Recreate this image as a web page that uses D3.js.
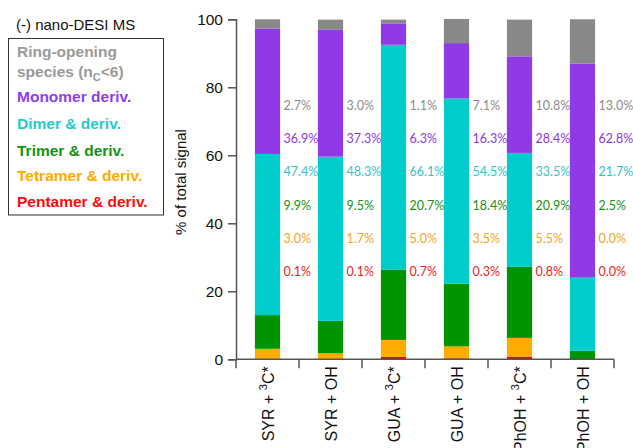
<!DOCTYPE html>
<html>
<head>
<meta charset="utf-8">
<script src="https://cdn.jsdelivr.net/npm/d3@7"></script>
<style>
  html, body { margin: 0; padding: 0; background: #fff; }
  svg { display: block; }
</style>
</head>
<body>
<svg id="chart" width="633" height="448"></svg>
<script>
// Samples (x axis), top-level tspans describe the superscript parts
const samples = [
  [{t: "SYR + "}, {t: "3", sup: true}, {t: "C*"}],
  [{t: "SYR + OH"}],
  [{t: "GUA + "}, {t: "3", sup: true}, {t: "C*"}],
  [{t: "GUA + OH"}],
  [{t: "PhOH + "}, {t: "3", sup: true}, {t: "C*"}],
  [{t: "PhOH + OH"}]
];

// Product classes, stacked bottom to top
const classes = ["pentamer", "tetramer", "trimer", "dimer", "monomer", "ring"];

// Percent of total signal per sample
const pentamer = [0.1, 0.1, 0.7, 0.3, 0.8, 0.0];
const tetramer = [3.0, 1.7, 5.0, 3.5, 5.5, 0.0];
const trimer   = [9.9, 9.5, 20.7, 18.4, 20.9, 2.5];
const dimer    = [47.4, 48.3, 66.1, 54.5, 33.5, 21.7];
const monomer  = [36.9, 37.3, 6.3, 16.3, 28.4, 62.8];
const ring     = [2.7, 3.0, 1.1, 7.1, 10.8, 13.0];

const yTicks = [0, 20, 40, 60, 80, 100];

const barColor = {
  ring: "#888888", monomer: "#8f3ae6", dimer: "#00cccc",
  trimer: "#009400", tetramer: "#ffab00", pentamer: "#ff0000"
};
const textColor = {
  ring: "#8c8c8c", monomer: "#9037e0", dimer: "#36c3c8",
  trimer: "#1a8f1a", tetramer: "#efa52a", pentamer: "#ee1c1c"
};
const legendColor = {
  ring: "#999999", monomer: "#8f3ee6", dimer: "#1ecccc",
  trimer: "#129412", tetramer: "#ffaa00", pentamer: "#ff0a0a"
};

const values = { pentamer, tetramer, trimer, dimer, monomer, ring };
const rows = samples.map((s, i) => {
  const r = { idx: i };
  classes.forEach(c => { r[c] = values[c][i]; });
  return r;
});

const svg = d3.select("#chart");
const margin = { left: 236, right: 19, top: 19.3, bottom: 88.7 };
const W = 633, H = 448;

const x = d3.scaleBand()
  .domain(d3.range(samples.length))
  .range([margin.left, W - margin.right])
  .padding(0);

const y = d3.scaleLinear()
  .domain([0, 100])
  .range([H - margin.bottom, margin.top]);

const stack = d3.stack().keys(classes);
const series = stack(rows);

const barW = x.bandwidth() * 0.4;

// Stacked bars
svg.append("g").selectAll("g")
  .data(series)
  .join("g")
  .attr("fill", d => barColor[d.key])
  .selectAll("rect")
  .data(d => d)
  .join("rect")
  .attr("x", d => x(d.data.idx) + (x.bandwidth() - barW) / 2)
  .attr("width", barW)
  .attr("y", d => y(d[1]))
  .attr("height", d => Math.max(0, y(d[0]) - y(d[1])));

// Value labels, one row per class, placed right of each bar
const labelOrder = ["ring", "monomer", "dimer", "trimer", "tetramer", "pentamer"];
const labelLevel = d3.scaleLinear().domain([0, labelOrder.length - 1]).range([74.7, 25.7]);
const lbl = svg.append("g")
  .attr("font-family", "Lato, 'Open Sans', sans-serif")
  .attr("font-size", 12.5);
labelOrder.forEach((c, k) => {
  lbl.selectAll(null)
    .data(rows)
    .join("text")
    .attr("x", d => x(d.idx) + (x.bandwidth() + barW) / 2 + 3.5)
    .attr("y", y(labelLevel(k)))
    .attr("dy", "0.35em")
    .attr("fill", textColor[c])
    .text(d => d[c].toFixed(1) + "%");
});

// Y axis
const axisColor = "#555";
const yAxis = svg.append("g")
  .attr("transform", `translate(${margin.left},0)`)
  .call(d3.axisLeft(y).tickValues(yTicks).tickSize(8).tickPadding(5));
yAxis.select(".domain").attr("stroke", axisColor).attr("stroke-width", 1.5);
yAxis.selectAll(".tick line").attr("stroke", axisColor).attr("stroke-width", 1.5);
yAxis.selectAll(".tick text")
  .attr("font-family", "Arial, 'Liberation Sans', sans-serif")
  .attr("font-size", 15.5)
  .attr("fill", "#111");

// X axis: ticks at the band boundaries
const xAxisG = svg.append("g").attr("transform", `translate(0,${y(0)})`);
xAxisG.append("line")
  .attr("x1", margin.left).attr("x2", W - margin.right)
  .attr("stroke", axisColor).attr("stroke-width", 1.5);
xAxisG.selectAll("line.tk")
  .data(d3.range(samples.length + 1))
  .join("line")
  .attr("class", "tk")
  .attr("x1", i => margin.left + i * x.step())
  .attr("x2", i => margin.left + i * x.step())
  .attr("y1", 0).attr("y2", 9)
  .attr("stroke", axisColor).attr("stroke-width", 1.5);

// Rotated category labels
const xl = svg.append("g")
  .attr("font-family", "Arial, 'Liberation Sans', sans-serif")
  .attr("font-size", 16)
  .attr("fill", "#111");
samples.forEach((parts, i) => {
  const cx = x(i) + x.bandwidth() / 2 + 6.5;
  const t = xl.append("text")
    .attr("transform", `translate(${cx},${y(0) + 7}) rotate(-90)`)
    .attr("text-anchor", "end");
  parts.forEach(p => {
    const ts = t.append("tspan").text(p.t);
    if (p.sup) ts.attr("font-size", 11).attr("dy", -7);
    else if (t.selectAll("tspan").size() > 1) ts.attr("dy", 7);
  });
});

// Y axis title
svg.append("text")
  .attr("transform", `translate(186,182) rotate(-90)`)
  .attr("text-anchor", "middle")
  .attr("font-family", "Arial, 'Liberation Sans', sans-serif")
  .attr("font-size", 15)
  .attr("fill", "#111")
  .text("% of total signal");

// Legend
svg.append("text")
  .attr("x", 16).attr("y", 29.5)
  .attr("font-family", "Arial, 'Liberation Sans', sans-serif")
  .attr("font-size", 15)
  .attr("fill", "#111")
  .text("(-) nano-DESI MS");

svg.append("rect")
  .attr("x", 8.5).attr("y", 38.5)
  .attr("width", 155).attr("height", 176.5)
  .attr("fill", "none")
  .attr("stroke", "#333").attr("stroke-width", 1);

const leg = svg.append("g")
  .attr("font-family", "Arial, 'Liberation Sans', sans-serif")
  .attr("font-size", 15.5)
  .attr("font-weight", "bold");

const legendItems = [
  { key: "ring", lines: [[{t: "Ring-opening"}], [{t: "species (n"}, {t: "C", sub: true}, {t: "<6)"}]] },
  { key: "monomer", lines: [[{t: "Monomer deriv."}]] },
  { key: "dimer", lines: [[{t: "Dimer & deriv."}]] },
  { key: "trimer", lines: [[{t: "Trimer & deriv."}]] },
  { key: "tetramer", lines: [[{t: "Tetramer & deriv."}]] },
  { key: "pentamer", lines: [[{t: "Pentamer & deriv."}]] }
];
const legendBaselines = [57, 76.5, 102, 128.5, 155.5, 181, 206.5];
let li = 0;
legendItems.forEach(item => {
  item.lines.forEach(parts => {
    const t = leg.append("text")
      .attr("x", 17).attr("y", legendBaselines[li++])
      .attr("fill", legendColor[item.key]);
    parts.forEach((p, j) => {
      const ts = t.append("tspan").text(p.t);
      if (p.sub) ts.attr("font-size", 11).attr("dy", 4);
      else if (j > 0 && parts[j - 1].sub) ts.attr("dy", -4);
    });
  });
});
</script>
</body>
</html>
